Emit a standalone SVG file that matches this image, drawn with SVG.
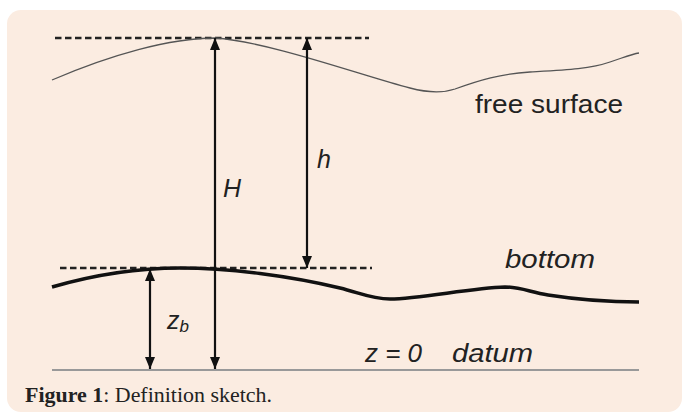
<svg xmlns="http://www.w3.org/2000/svg" width="689" height="419" viewBox="0 0 689 419">
<style>
.dash{stroke:#222;stroke-width:2.5;stroke-dasharray:6.5,3.5;fill:none}
.arr{stroke:#111;stroke-width:2.2;fill:none;marker-start:url(#ah);marker-end:url(#ah)}
.lbl{font-family:"Liberation Sans",Arial,sans-serif;fill:#222;font-size:25px}
.it{font-style:italic}
</style>
<defs>
<marker id="ah" viewBox="0 0 12 10" refX="12" refY="5" markerWidth="12" markerHeight="11" markerUnits="userSpaceOnUse" orient="auto-start-reverse">
<path d="M0,0 L12,5 L0,10 z" fill="#111"/>
</marker>
</defs>
<rect x="7" y="10" width="675" height="402" rx="14" fill="#fbece1"/>
<g id="free-surface">
<line class="dash" x1="55" y1="38" x2="369" y2="38"/>
<path d="M52,80 C110,55 170,38 215,38 C270,42 360,75 410,88 C425,92 440,94 455,89 C480,80 500,74 530,72 C565,70 590,69 610,62 C625,57 632,54 639,53" stroke="#555" stroke-width="1.3" fill="none"/>
<text class="lbl" x="475" y="113" textLength="148" lengthAdjust="spacingAndGlyphs">free surface</text>
</g>
<g id="bottom">
<line class="dash" x1="60" y1="268" x2="372" y2="268"/>
<path d="M52,287 C90,276 130,268 180,268 C230,268 290,276 340,288 C360,293 372,299 390,299 C420,299 470,288 505,287 C520,287 530,292 548,295 C580,300 610,302 639,302" stroke="#111" stroke-width="3.5" fill="none"/>
<text class="lbl it" x="505" y="268" textLength="90" lengthAdjust="spacingAndGlyphs">bottom</text>
</g>
<g id="datum">
<line x1="52" y1="370" x2="639" y2="370" stroke="#999" stroke-width="2"/>
<text class="lbl it" x="365" y="362" textLength="57" lengthAdjust="spacingAndGlyphs">z = 0</text>
<text class="lbl it" x="452" y="362" textLength="81" lengthAdjust="spacingAndGlyphs">datum</text>
</g>
<g id="connectors">
<line class="arr" x1="215" y1="38" x2="215" y2="369"/>
<line class="arr" x1="307" y1="38" x2="307" y2="268"/>
<line class="arr" x1="150" y1="269" x2="150" y2="369"/>
</g>
<g id="labels">
<text class="lbl it" x="223" y="197">H</text>
<text class="lbl it" x="317" y="168">h</text>
<text class="lbl it" x="167" y="329">z<tspan font-size="17" dy="3">b</tspan></text>
</g>
<g id="caption">
<text x="25" y="402" font-family="'Liberation Serif','Times New Roman',serif" font-size="21" fill="#222" textLength="247" lengthAdjust="spacingAndGlyphs"><tspan font-weight="bold">Figure 1</tspan>: Definition sketch.</text>
</g>
</svg>
